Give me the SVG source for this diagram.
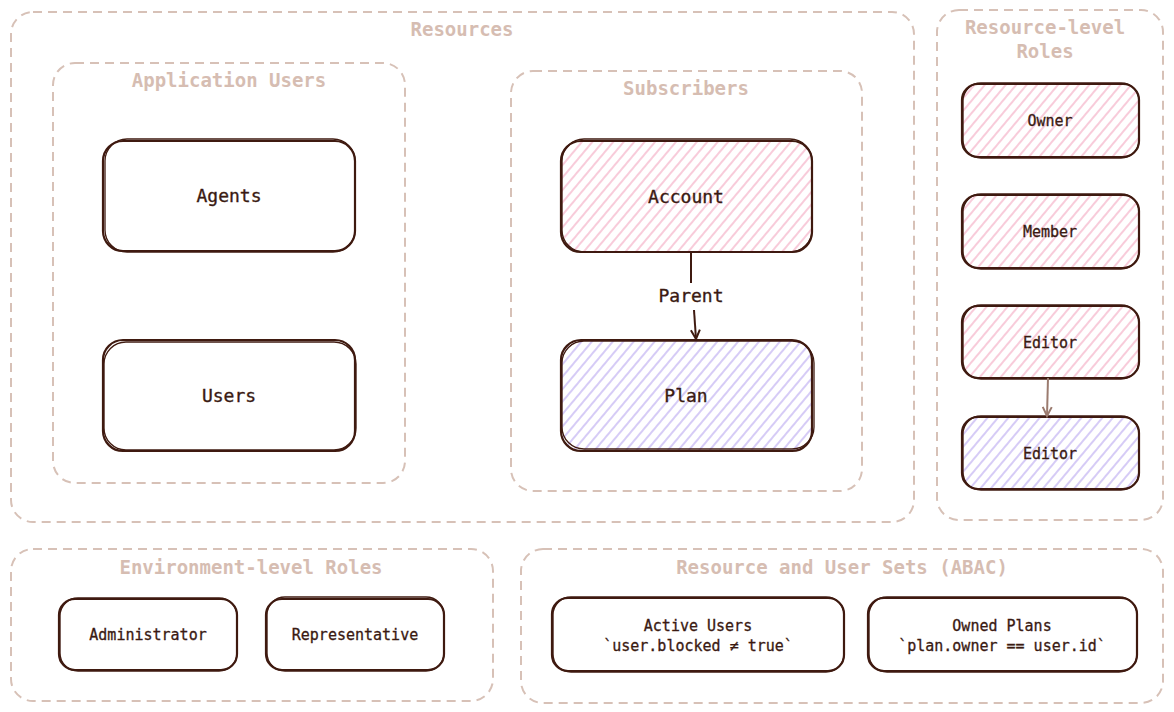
<svg xmlns="http://www.w3.org/2000/svg" width="1174" height="712" viewBox="0 0 1174 712">
<style>
.cont{fill:none;stroke:#d7c1b7;stroke-width:2;stroke-dasharray:9 6}
.clab{font-family:"DejaVu Sans Mono","Liberation Mono",monospace;font-size:19px;font-weight:bold;fill:#d6bdb2;text-anchor:middle}
.nb{stroke:#3f1a10;stroke-width:2.2}
.nb2{fill:none;stroke:#3f1a10;stroke-width:1.3}
.nt{font-family:"DejaVu Sans Mono","Liberation Mono",monospace;font-size:18px;fill:#3a1a12;stroke:#3a1a12;stroke-width:0.35;text-anchor:middle}
.st{font-family:"DejaVu Sans Mono","Liberation Mono",monospace;font-size:15px;fill:#3a1a12;stroke:#3a1a12;stroke-width:0.3;text-anchor:middle}
.edge{fill:none;stroke:#3f1a10;stroke-width:2}
.edge2{fill:none;stroke:#9b7b6f;stroke-width:2}
</style>
<defs>
<pattern id="pink" patternUnits="userSpaceOnUse" width="8" height="8" patternTransform="rotate(40)">
<rect width="8" height="8" fill="#fff"/>
<line x1="1" y1="0" x2="1" y2="8" stroke="#f5b0c6" stroke-width="1.3"/>
</pattern>
<pattern id="purple" patternUnits="userSpaceOnUse" width="8" height="8" patternTransform="rotate(40)">
<rect width="8" height="8" fill="#fff"/>
<line x1="1" y1="0" x2="1" y2="8" stroke="#c0b0f2" stroke-width="1.3"/>
</pattern>
<marker id="arr" markerWidth="12" markerHeight="12" refX="10" refY="6" orient="auto" markerUnits="userSpaceOnUse">
<path d="M1,1.5 L10,6 L1,10.5" fill="none" stroke="#3f1a10" stroke-width="2"/>
</marker>
<marker id="arr2" markerWidth="12" markerHeight="12" refX="10" refY="6" orient="auto" markerUnits="userSpaceOnUse">
<path d="M1,1.5 L10,6 L1,10.5" fill="none" stroke="#9b7b6f" stroke-width="2"/>
</marker>
</defs>
<rect width="1174" height="712" fill="#ffffff"/>

<g id="resources">
<rect class="cont" x="11" y="12" width="903" height="510" rx="22"/>
<text class="clab" x="462" y="36">Resources</text>
</g>
<g id="application-users">
<rect class="cont" x="53" y="63" width="352" height="420" rx="22"/>
<text class="clab" x="229" y="87">Application Users</text>
</g>
<g id="subscribers">
<rect class="cont" x="511" y="71" width="351" height="420" rx="22"/>
<text class="clab" x="686" y="95">Subscribers</text>
</g>
<g id="resource-level-roles">
<rect class="cont" x="937" y="10" width="226" height="510" rx="22"/>
<text class="clab" x="1045" y="34">Resource-level</text>
<text class="clab" x="1045" y="58">Roles</text>
</g>
<g id="environment-level-roles">
<rect class="cont" x="11" y="549" width="482" height="152" rx="22"/>
<text class="clab" x="251" y="574">Environment-level Roles</text>
</g>
<g id="abac">
<rect class="cont" x="521" y="549" width="642" height="154" rx="22"/>
<text class="clab" x="842" y="574">Resource and User Sets (ABAC)</text>
</g>

<g id="agents">
<rect class="nb" fill="#fff" x="103" y="141" width="252" height="110" rx="20"/>
<rect class="nb2" x="105" y="139" width="250" height="113" rx="22"/>
<text class="nt" x="229" y="202">Agents</text>
</g>
<g id="users">
<rect class="nb" fill="#fff" x="103" y="340" width="252" height="111" rx="20"/>
<rect class="nb2" x="104" y="342" width="252" height="108" rx="22"/>
<text class="nt" x="229" y="402">Users</text>
</g>
<g id="account">
<rect class="nb" fill="url(#pink)" x="561" y="141" width="251" height="111" rx="20"/>
<rect class="nb2" x="562" y="139" width="250" height="113" rx="22"/>
<text class="nt" x="686" y="203">Account</text>
</g>
<g id="plan">
<rect class="nb" fill="url(#purple)" x="561" y="340" width="251" height="111" rx="20"/>
<rect class="nb2" x="562" y="341" width="252" height="108" rx="22"/>
<text class="nt" x="686" y="402">Plan</text>
</g>
<g id="owner">
<rect class="nb" fill="url(#pink)" x="962" y="84" width="177" height="73" rx="16"/>
<rect class="nb2" x="963" y="83" width="176" height="75" rx="18"/>
<text class="st" x="1050" y="126">Owner</text>
</g>
<g id="member">
<rect class="nb" fill="url(#pink)" x="962" y="195" width="177" height="73" rx="16"/>
<rect class="nb2" x="963" y="194" width="176" height="75" rx="18"/>
<text class="st" x="1050" y="237">Member</text>
</g>
<g id="editor-account">
<rect class="nb" fill="url(#pink)" x="962" y="306" width="177" height="72" rx="16"/>
<rect class="nb2" x="963" y="305" width="176" height="74" rx="18"/>
<text class="st" x="1050" y="348">Editor</text>
</g>
<g id="editor-plan">
<rect class="nb" fill="url(#purple)" x="962" y="417" width="177" height="72" rx="16"/>
<rect class="nb2" x="963" y="416" width="176" height="74" rx="18"/>
<text class="st" x="1050" y="459">Editor</text>
</g>
<g id="administrator">
<rect class="nb" fill="#fff" x="59" y="599" width="178" height="71" rx="16"/>
<rect class="nb2" x="60" y="598" width="177" height="73" rx="18"/>
<text class="st" x="148" y="640">Administrator</text>
</g>
<g id="representative">
<rect class="nb" fill="#fff" x="266" y="599" width="178" height="71" rx="16"/>
<rect class="nb2" x="267" y="597" width="177" height="74" rx="18"/>
<text class="st" x="355" y="640">Representative</text>
</g>
<g id="active-users">
<rect class="nb" fill="#fff" x="552" y="598" width="292" height="73" rx="16"/>
<rect class="nb2" x="553" y="597" width="291" height="75" rx="18"/>
<text class="st" x="698" y="631">Active Users</text>
<text class="st" x="698" y="651">`user.blocked ≠ true`</text>
</g>
<g id="owned-plans">
<rect class="nb" fill="#fff" x="868" y="598" width="269" height="73" rx="16"/>
<rect class="nb2" x="869" y="597" width="268" height="75" rx="18"/>
<text class="st" x="1002" y="631">Owned Plans</text>
<text class="st" x="1002" y="651">`plan.owner == user.id`</text>
</g>

<g id="connectors">
<path class="edge" d="M691,252 L691,283"/>
<path class="edge" d="M694,310 L696,339" marker-end="url(#arr)"/>
<rect x="655" y="285" width="74" height="22" fill="#fff"/>
<text class="nt" x="691" y="302">Parent</text>
<path class="edge2" d="M1048,378 L1047,416" marker-end="url(#arr2)"/>
</g>
</svg>
